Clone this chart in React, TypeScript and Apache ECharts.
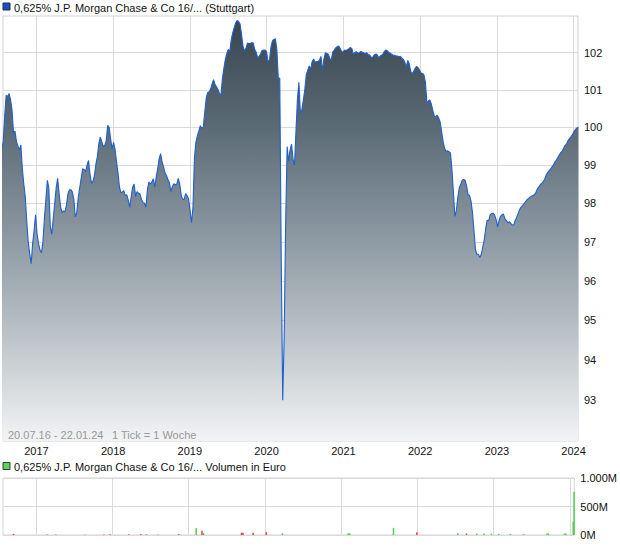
import React, { useEffect, useRef } from "react";
import * as echarts from "echarts";

const FONT = '"Liberation Sans", Arial, sans-serif';

// weekly closing prices, first week 2016-07-20
const priceStart = "2016-07-20";
const axisStart = "2016-07-26";
const axisEnd = "2024-01-22";
const prices = [
  99.4, 99.62, 100.3, 100.85, 100.82, 100.9, 100.73, 100.46, 99.85, 99.9,
  99.62, 99.5, 99.4, 99.53, 98.9, 98.5, 98.17, 97.53, 97.0, 96.7,
  96.44, 96.95, 97.3, 97.7, 97.2, 96.96, 96.79, 96.72, 97.0, 97.6,
  98.1, 98.6, 98.4, 97.4, 97.2, 97.6, 98.0, 98.4, 98.65, 98.25,
  97.9, 97.76, 97.8, 97.78, 97.95, 98.25, 98.35, 98.35, 98.3, 98.1,
  97.65, 97.75, 98.15, 98.4, 98.65, 98.9, 98.88, 98.83, 99.0, 99.12,
  98.76, 98.52, 98.57, 98.72, 99.02, 99.22, 99.57, 99.74, 99.62, 99.49,
  99.52, 99.64, 100.05, 100.0, 99.7, 99.42, 99.6, 99.42, 99.1, 98.8,
  98.43, 98.28, 98.29, 98.33, 98.2, 98.22, 98.08, 97.9, 98.17, 98.42,
  98.5, 98.18, 98.3, 98.26, 98.24, 98.1, 98.02, 98.0, 97.9, 98.35,
  98.55, 98.5, 98.55, 98.64, 98.42, 98.69, 98.9, 99.17, 99.3, 99.08,
  98.95, 98.8, 98.72, 98.62, 98.53, 98.3, 98.44, 98.51, 98.48, 98.5,
  98.65, 98.5, 98.2, 98.1, 98.1, 98.25, 98.2, 98.12, 97.8, 97.5,
  97.9, 99.2, 99.6, 99.78, 99.9, 100.04, 99.97, 100.0, 100.4, 100.78,
  100.93, 100.95, 101.02, 101.16, 101.27, 101.14, 101.08, 101.01, 100.9, 100.85,
  101.3, 101.58, 101.82, 101.98, 102.09, 102.02, 102.35, 102.54, 102.68, 102.81,
  102.88, 102.85, 102.78, 102.5, 102.18, 102.05, 102.12, 102.26, 102.25, 102.25,
  102.28, 102.26, 102.08, 102.01, 101.86, 101.91, 101.97, 102.06, 102.07, 102.07,
  102.03, 101.75, 101.8, 102.15, 102.32, 102.36, 102.38, 102.1, 101.3, 101.32,
  96.5, 93.0, 94.6, 97.5, 99.49, 99.1, 99.4, 99.55, 99.15, 99.0,
  99.9, 100.75, 101.2, 100.37, 100.47, 100.72, 101.0, 101.4, 101.53, 101.64,
  101.55, 101.76, 101.83, 101.74, 101.76, 101.76, 101.8, 101.9, 101.52, 101.83,
  102.0, 101.98, 101.96, 101.84, 101.8, 102.02, 102.07, 102.13, 102.16, 102.18,
  102.12, 102.03, 102.02, 102.07, 102.06, 102.08, 102.11, 102.14, 102.11, 101.96,
  102.0, 102.03, 101.99, 102.0, 102.03, 102.02, 102.0, 101.98, 102.0, 101.95,
  101.94, 101.88, 101.87, 101.93, 101.96, 101.96, 101.88, 101.9, 101.93, 101.95,
  102.03, 102.07, 102.06, 102.01, 101.99, 101.96, 101.93, 101.93, 101.91, 101.91,
  101.89, 101.9, 101.85, 101.82, 101.74, 101.62, 101.79, 101.7, 101.5, 101.43,
  101.5, 101.58, 101.63, 101.59, 101.53, 101.45, 101.44, 101.4, 101.2, 100.65,
  100.7, 100.73, 100.62, 100.45, 100.3, 100.28, 100.32, 100.25, 100.14, 99.9,
  99.62, 99.45, 99.35, 99.38, 99.35, 99.32, 98.9, 98.3, 97.66, 97.8,
  98.15, 98.4, 98.5, 98.6, 98.62, 98.6, 98.45, 98.22, 98.2, 98.05,
  97.75, 97.3, 96.8, 96.68, 96.68, 96.6, 96.68, 96.87, 97.06, 97.35,
  97.56, 97.55, 97.7, 97.73, 97.74, 97.7, 97.58, 97.39, 97.54, 97.66,
  97.7, 97.72, 97.6, 97.55, 97.49, 97.52, 97.48, 97.43, 97.44, 97.55,
  97.63, 97.73, 97.83, 97.9, 97.94, 97.99, 98.04, 98.09, 98.12, 98.16,
  98.18, 98.2, 98.22, 98.27, 98.37, 98.42, 98.48, 98.52, 98.56, 98.62,
  98.73, 98.8, 98.85, 98.89, 98.95, 99.0, 99.08, 99.13, 99.2, 99.27,
  99.33, 99.37, 99.45, 99.52, 99.56, 99.65, 99.7, 99.75, 99.81, 99.89,
  99.94, 99.98, 100.0,
];

const years = [2017, 2018, 2019, 2020, 2021, 2022, 2023, 2024];
const priceTicks = [93, 94, 95, 96, 97, 98, 99, 100, 101, 102];
const priceMin = 92;
const priceMax = 103;

// volume in millions of euro; up = green, else red
const volDates = [
  "2016-09-14", "2017-02-22", "2017-04-05", "2017-08-23", "2017-11-22", "2017-12-20",
  "2018-03-21", "2018-05-16", "2018-06-13", "2018-08-08", "2018-11-14", "2019-02-06",
  "2019-03-06", "2019-03-13", "2019-09-11", "2019-09-18", "2019-11-06", "2020-01-08",
  "2020-03-25", "2021-02-03", "2021-02-10", "2021-09-08", "2021-12-29", "2022-07-13",
  "2022-08-24", "2022-10-12", "2022-11-16", "2022-12-21", "2023-01-25", "2023-03-22",
  "2023-05-24", "2023-09-13", "2023-09-20", "2023-12-06", "2023-12-13", "2024-01-17",
  "2024-01-21",
];
const volValues = [
  20, 15, 15, 10, 10, 15,
  15, 15, 15, 10, 15, 125,
  76, 35, 40, 40, 40, 50,
  30, 30, 30, 125, 50, 30,
  25, 25, 25, 25, 20, 20,
  20, 25, 25, 25, 25, 240,
  760,
];
const volUp = [
  false, true, true, true, false, false,
  false, false, true, true, false, true,
  false, true, false, false, false, false,
  true, true, true, true, false, true,
  false, true, true, true, true, true,
  true, true, true, true, true, true,
  true,
];
const volTicks = [0, 500, 1000];

const titleText = "0,625% J.P. Morgan Chase & Co 16/... (Stuttgart)";
const volTitleText = "0,625% J.P. Morgan Chase & Co 16/... Volumen in Euro";
const rangeText = "20.07.16 - 22.01.24";
const tickText = "1 Tick = 1 Woche";

const ts = (s: string) => {
  const [y, m, d] = s.split("-").map(Number);
  return Date.UTC(y, m - 1, d);
};
const DAY = 86400000;

export default function App() {
  const ref = useRef<HTMLDivElement>(null);
  useEffect(() => {
    if (!ref.current) return;
    const chart = echarts.init(ref.current, null, { renderer: "svg" });
    const t0 = ts(priceStart);
    const priceData = prices.map((v, i) => [t0 + i * 7 * DAY, Math.log(v)]);
    const yearTs = years.map((y) => Date.UTC(y, 0, 1));
    const logTicks = priceTicks.map((v) => Math.log(v));
    const volData = volDates.map((d, i) => ({
      value: [ts(d), volValues[i]],
      itemStyle: { color: volUp[i] ? "#4fcf4f" : "#e8403a" },
    }));
    const gridLine = { show: true, lineStyle: { color: "#dadada", width: 1 } };
    const option: any = {
      animation: false,
      grid: [
        { left: 3, right: 42, top: 16, bottom: 105, show: true, borderColor: "#d2d2d2", borderWidth: 1 },
        { left: 3, right: 42, top: 478, bottom: 11, show: true, borderColor: "#d2d2d2", borderWidth: 1 },
      ],
      xAxis: [
        {
          type: "value", gridIndex: 0, min: ts(axisStart), max: ts(axisEnd),
          axisLine: { show: false },
          axisTick: { show: false, customValues: yearTs },
          axisLabel: {
            customValues: yearTs,
            formatter: (v: number) => String(new Date(v).getUTCFullYear()),
            color: "#111", fontSize: 11, fontFamily: FONT, margin: 4,
          },
          splitLine: gridLine,
        },
        {
          type: "value", gridIndex: 1, min: ts(axisStart), max: ts(axisEnd),
          axisLine: { show: false },
          axisTick: { show: false, customValues: yearTs },
          axisLabel: { show: false, customValues: yearTs },
          splitLine: gridLine,
        },
      ],
      yAxis: [
        {
          type: "value", gridIndex: 0, position: "right",
          min: Math.log(priceMin), max: Math.log(priceMax),
          axisLine: { show: false },
          axisTick: { show: false, customValues: logTicks },
          axisLabel: {
            customValues: logTicks,
            formatter: (v: number) => String(Math.round(Math.exp(v))),
            color: "#111", fontSize: 11, fontFamily: FONT, margin: 6,
          },
          splitLine: gridLine,
        },
        {
          type: "value", gridIndex: 1, position: "right",
          min: volTicks[0], max: volTicks[2], interval: volTicks[1],
          axisLine: { show: false },
          axisTick: { show: false },
          axisLabel: {
            formatter: (v: number) => (v >= 1000 ? "1.000M" : v + "M"),
            color: "#111", fontSize: 11, fontFamily: FONT, margin: 6,
          },
          splitLine: gridLine,
        },
      ],
      series: [
        {
          type: "line", xAxisIndex: 0, yAxisIndex: 0, data: priceData,
          showSymbol: false, symbol: "none",
          lineStyle: { color: "#1f5fcf", width: 1.1 },
          areaStyle: {
            origin: "start",
            opacity: 1,
            color: new echarts.graphic.LinearGradient(0, 0, 0, 1, [
              { offset: 0, color: "#384651" },
              { offset: 0.25, color: "#5a6a75" },
              { offset: 0.5, color: "#8996a0" },
              { offset: 0.75, color: "#bcc3c8" },
              { offset: 1, color: "#f2f3f5" },
            ]),
          },
          emphasis: { disabled: true },
        },
        {
          type: "bar", xAxisIndex: 1, yAxisIndex: 1, data: volData,
          barWidth: 1.5, emphasis: { disabled: true },
        },
      ],
      graphic: [
        { type: "rect", shape: { x: 3, y: 3, width: 7, height: 7 }, style: { fill: "#1e4fb4", stroke: "#1a2a60", lineWidth: 1 } },
        { type: "text", x: 14, y: 7.5, style: { text: titleText, fill: "#111", font: "11px " + FONT, textVerticalAlign: "middle" } },
        { type: "text", x: 8, y: 435, z: 100, style: { text: rangeText, fill: "#999999", font: "11px " + FONT, textVerticalAlign: "middle" } },
        { type: "text", x: 112, y: 435, z: 100, style: { text: tickText, fill: "#999999", font: "11px " + FONT, textVerticalAlign: "middle" } },
        { type: "rect", shape: { x: 3, y: 462.5, width: 7, height: 7 }, style: { fill: "#5fcf5f", stroke: "#2a4a2a", lineWidth: 1 } },
        { type: "text", x: 14, y: 466.5, style: { text: volTitleText, fill: "#111", font: "11px " + FONT, textVerticalAlign: "middle" } },
      ],
    };
    chart.setOption(option);
    return () => chart.dispose();
  }, []);
  return (
    <div
      ref={ref}
      style={{ position: "absolute", left: 0, top: 0, width: 620, height: 546, background: "#fff" }}
    />
  );
}
